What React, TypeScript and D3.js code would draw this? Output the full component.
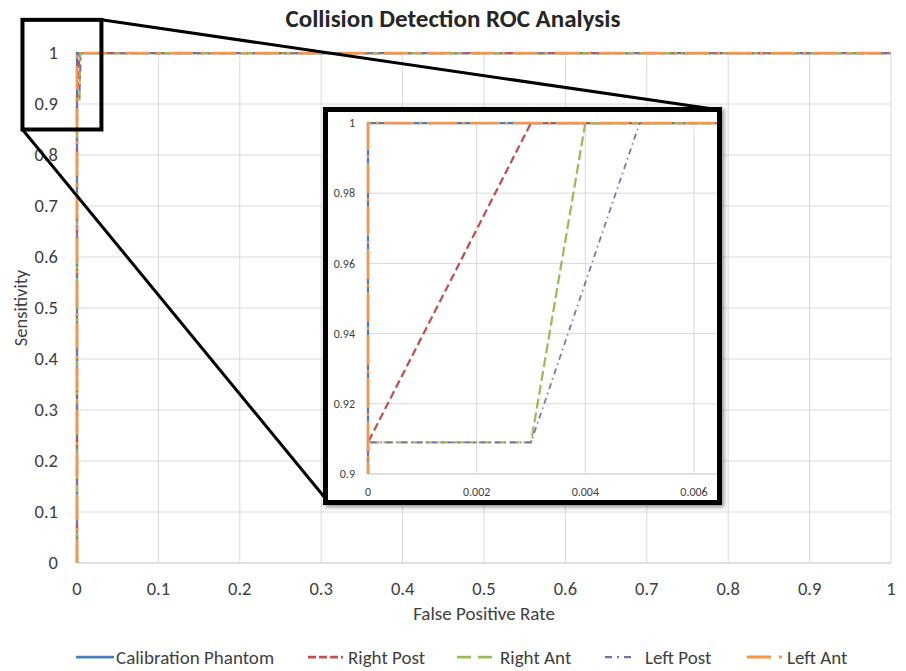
import React from 'react'
import * as d3 from 'd3'

// ROC points [false positive rate, sensitivity]
const calibrationPhantom: [number, number][] = [[0, 0], [0, 1], [1, 1]]
const rightPost: [number, number][] = [[0, 0], [0, 0.909], [0.003, 1], [1, 1]]
const rightAnt: [number, number][] = [[0, 0], [0, 0.909], [0.003, 0.909], [0.004, 1], [1, 1]]
const leftPost: [number, number][] = [[0, 0], [0, 0.909], [0.003, 0.909], [0.005, 1], [1, 1]]
const leftAnt: [number, number][] = [[0, 0], [0, 1], [1, 1]]

const seriesNames = ['Calibration Phantom', 'Right Post', 'Right Ant', 'Left Post', 'Left Ant']
const seriesData = [calibrationPhantom, rightPost, rightAnt, leftPost, leftAnt]

const mainTicks = [0, 0.1, 0.2, 0.3, 0.4, 0.5, 0.6, 0.7, 0.8, 0.9, 1]
const insetXTicks = [0, 0.002, 0.004, 0.006]
const insetYTicks = [0.9, 0.92, 0.94, 0.96, 0.98, 1]
// region of the main plot that the inset magnifies (data units)
const zoomX = [-0.067, 0.03]
const zoomY = [0.85, 1.065]

const styles = [
  { color: '#4A7EBB', dash: null, width: 2.25, insetDash: null },
  { color: '#C0504D', dash: '8 3', width: 2.25, insetDash: '8 4' },
  { color: '#9BBB59', dash: '14 7', width: 2.25, insetDash: '10 4' },
  { color: '#7F6FA8', dash: '7 5 2 5', width: 1.75, insetDash: '6 4 1.5 4' },
  { color: '#F79646', dash: '24 8 3 8', width: 2.5, insetDash: '30 5 3 5' },
]
const legendLayout = [
  { x0: 76, x1: 114, tx: 116 },
  { x0: 308, x1: 343, tx: 348 },
  { x0: 457, x1: 493, tx: 500 },
  { x0: 605, x1: 634, tx: 645 },
  { x0: 747, x1: 785, tx: 787 },
]

const FONT = "Calibri, Carlito, 'Liberation Sans Narrow', 'Liberation Sans', sans-serif"
const grid = '#D9D9D9'
const fmt = d3.format('~g')

export default function App() {
  const width = 906
  const height = 671

  const x = d3.scaleLinear().domain([0, 1]).range([77, 891])
  const y = d3.scaleLinear().domain([0, 1]).range([563, 53])
  const line = d3.line<[number, number]>().x(d => x(d[0])).y(d => y(d[1]))

  const ix = d3.scaleLinear().domain([0, 0.006]).range([368, 694])
  const iy = d3.scaleLinear().domain([0.9, 1]).range([474, 123])
  const iline = d3.line<[number, number]>().x(d => ix(d[0])).y(d => iy(d[1]))

  // inset frame
  const frame = { x: 325.5, y: 109.5, w: 394, h: 393 }

  const zx0 = x(zoomX[0]), zx1 = x(zoomX[1])
  const zy0 = y(zoomY[1]), zy1 = y(zoomY[0])

  return (
    <svg width={width} height={height} style={{ position: 'absolute', left: 0, top: 0, background: '#fff' }} fontFamily={FONT}>
      <defs>
        <clipPath id="insetClip">
          <rect x={frame.x + 2.5} y={frame.y + 2.5} width={frame.w - 5} height={frame.h - 5} />
        </clipPath>
        <clipPath id="insetPlotClip">
          <rect x={ix(0) - 3} y={iy(1) - 3} width={frame.x + frame.w - ix(0)} height={iy(0.9) - iy(1) + 3} />
        </clipPath>
        <clipPath id="mainClip">
          <rect x={x(0) - 3} y={y(1) - 3} width={x(1) - x(0) + 6} height={y(0) - y(1) + 6} />
        </clipPath>
        <filter id="shadow" x="-10%" y="-10%" width="120%" height="120%">
          <feDropShadow dx="2" dy="2" stdDeviation="2" floodColor="#000" floodOpacity="0.45" />
        </filter>
      </defs>

      <text x={453} y={27} textAnchor="middle" fontSize={25} fontWeight="bold" fill="#262626">
        Collision Detection ROC Analysis
      </text>

      {/* gridlines */}
      {mainTicks.map(t => (
        <line key={'gy' + t} x1={x(0)} x2={x(1)} y1={y(t)} y2={y(t)} stroke={t === 0 ? '#BFBFBF' : grid} />
      ))}
      {mainTicks.map(t => (
        <line key={'gx' + t} x1={x(t)} x2={x(t)} y1={y(0)} y2={y(1)} stroke={grid} />
      ))}

      {/* tick labels */}
      {mainTicks.map(t => (
        <text key={'ty' + t} x={58} y={y(t)} dy="0.35em" textAnchor="end" fontSize={18.5} fill="#404040">{fmt(t)}</text>
      ))}
      {mainTicks.map(t => (
        <text key={'tx' + t} x={x(t)} y={589} dy="0.35em" textAnchor="middle" fontSize={18.5} fill="#404040">{fmt(t)}</text>
      ))}

      <text x={x(0.5)} y={613} dy="0.35em" textAnchor="middle" fontSize={19} fill="#404040">False Positive Rate</text>
      <text transform={`translate(21,${y(0.5)}) rotate(-90)`} dy="0.35em" textAnchor="middle" fontSize={18.5} fill="#404040">Sensitivity</text>

      {/* series */}
      <g clipPath="url(#mainClip)">
        {seriesData.map((d, i) => (
          <path key={'s' + i} d={line(d) || ''} fill="none" stroke={styles[i].color}
            strokeWidth={styles[i].width} strokeDasharray={styles[i].dash || undefined} />
        ))}
      </g>

      {/* zoom box and connectors */}
      <rect x={zx0} y={zy0} width={zx1 - zx0} height={zy1 - zy0} fill="none" stroke="#000" strokeWidth={4} />
      <line x1={zx1} y1={zy0} x2={frame.x + frame.w - 3} y2={frame.y} stroke="#000" strokeWidth={3} />
      <line x1={zx0} y1={zy1} x2={frame.x} y2={frame.y + frame.h - 4} stroke="#000" strokeWidth={3} />

      {/* inset */}
      <rect x={frame.x} y={frame.y} width={frame.w} height={frame.h} fill="#fff" stroke="#000" strokeWidth={5} filter="url(#shadow)" />
      <rect x={frame.x} y={frame.y} width={frame.w} height={frame.h} fill="#fff" stroke="none" />
      <g clipPath="url(#insetClip)">
        {insetYTicks.map(t => (
          <line key={'iy' + t} x1={ix(0)} x2={frame.x + frame.w} y1={iy(t)} y2={iy(t)} stroke={t === 0.9 ? '#BFBFBF' : grid} />
        ))}
        {insetXTicks.map(t => (
          <line key={'ix' + t} x1={ix(t)} x2={ix(t)} y1={iy(0.9)} y2={iy(1)} stroke={grid} />
        ))}
        {insetYTicks.map(t => (
          <text key={'iyl' + t} x={355} y={iy(t)} dy="0.35em" textAnchor="end" fontSize={12} fill="#404040">{fmt(t)}</text>
        ))}
        {insetXTicks.map(t => (
          <text key={'ixl' + t} x={ix(t)} y={492} dy="0.35em" textAnchor="middle" fontSize={12} fill="#404040">{fmt(t)}</text>
        ))}
        <g clipPath="url(#insetPlotClip)">
          {seriesData.map((d, i) => (
            <path key={'is' + i} d={iline(d) || ''} fill="none" stroke={styles[i].color}
              strokeWidth={styles[i].width} strokeDasharray={styles[i].insetDash || undefined} />
          ))}
        </g>
      </g>
      <rect x={frame.x} y={frame.y} width={frame.w} height={frame.h} fill="none" stroke="#000" strokeWidth={5} />

      {/* legend */}
      {seriesNames.map((name, i) => (
        <g key={'lg' + i}>
          <line x1={legendLayout[i].x0} x2={legendLayout[i].x1} y1={657} y2={657} stroke={styles[i].color}
            strokeWidth={styles[i].width + 0.5} strokeDasharray={styles[i].dash || undefined} />
          <text x={legendLayout[i].tx} y={657} dy="0.35em" fontSize={19} fill="#404040">{name}</text>
        </g>
      ))}
    </svg>
  )
}
